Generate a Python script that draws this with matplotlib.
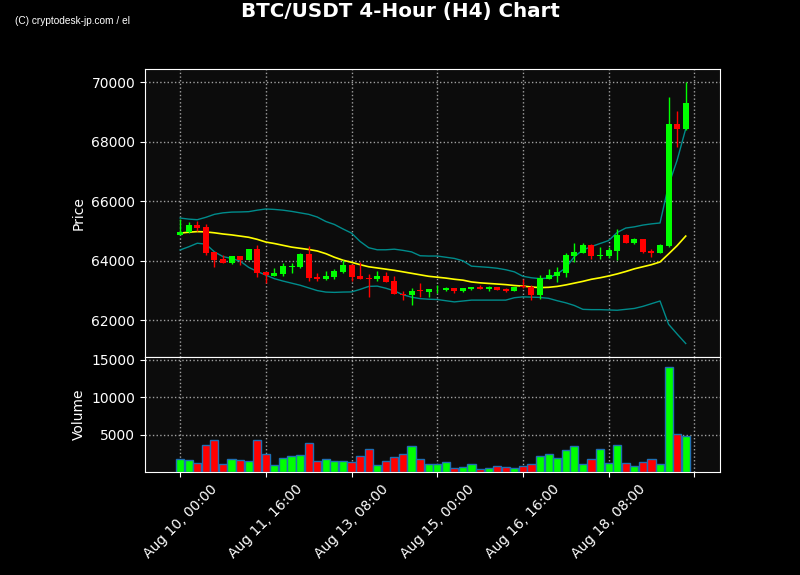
import matplotlib
matplotlib.use("Agg")
import matplotlib.pyplot as plt
import pandas as pd
import numpy as np

# ---- data ----
start = "2024-08-10 00:00"
opens = [64882, 64963, 65209, 65130, 64297, 64050, 63936, 64162, 64027, 64388,
         63632, 63497, 63564, 63795, 63790, 64230, 63463, 63385, 63443, 63620,
         63868, 63487, 63408, 63385, 63487, 63328, 62900, 62845, 63003, 62956,
         63037, 63013, 63081, 62990, 63047, 63115, 63037, 63115, 63058, 62980,
         63148, 63104, 62845, 63395, 63487, 63598, 64172, 64274, 64544, 64165,
         64172, 64331, 64872, 64601, 64736, 64341, 64274, 64490, 68588, 68420]
highs = [65400, 65300, 65320, 65235, 64300, 64196, 64160, 64170, 64400, 64534,
         63640, 63746, 63915, 63915, 64273, 64490, 63598, 63655, 63723, 64027,
         63900, 63970, 63554, 63655, 63632, 63487, 62990, 63071, 63240, 63060,
         63182, 63110, 63090, 63090, 63130, 63172, 63150, 63125, 63090, 63130,
         63375, 63182, 63509, 63713, 63780, 64253, 64591, 64590, 64560, 64456,
         64480, 65064, 64890, 64760, 64745, 64409, 64550, 69510, 69017, 70000]
lows = [64870, 64950, 64985, 64185, 63780, 63915, 63900, 63850, 64020, 63443,
        63240, 63490, 63497, 63598, 63746, 63317, 63307, 63340, 63400, 63590,
        63317, 63380, 62790, 63328, 63290, 62885, 62699, 62530, 62787, 62787,
        62935, 62990, 62935, 62940, 63030, 63040, 62990, 63010, 62950, 62970,
        63100, 62699, 62720, 63390, 63274, 63443, 63970, 64250, 64050, 64071,
        64090, 64027, 64590, 64560, 64250, 64139, 64250, 64450, 67834, 68400]
closes = [64973, 65209, 65118, 64275, 64027, 63936, 64152, 64027, 64388, 63598,
          63520, 63588, 63834, 63820, 64240, 63430, 63385, 63497, 63666, 63868,
          63463, 63385, 63385, 63487, 63294, 62889, 62845, 62990, 62970, 63047,
          63058, 63081, 62990, 63081, 63115, 63047, 63126, 63024, 62980, 63126,
          63104, 62845, 63419, 63509, 63622, 64196, 64297, 64544, 64172, 64185,
          64365, 64872, 64611, 64736, 64297, 64263, 64534, 68588, 68429, 69300]
volumes = [1800, 1667, 1267, 3667, 4333, 1133, 1800, 1667, 1533, 4333,
           2467, 1000, 1933, 2200, 2333, 3933, 1533, 1800, 1533, 1533,
           1400, 2200, 3133, 1000, 1533, 2067, 2467, 3533, 1800, 1133,
           1133, 1400, 600, 733, 1133, 467, 600, 867, 733, 600,
           867, 1133, 2200, 2467, 1933, 3000, 3533, 1133, 1800, 3133,
           1267, 3667, 1267, 867, 1400, 1800, 1133, 14067, 5133, 4867]
sma20 = [64930, 64960, 64980, 64970, 64940, 64900, 64870, 64830, 64790, 64720,
         64630, 64580, 64520, 64460, 64420, 64380, 64330, 64240, 64120, 64020,
         63950, 63870, 63800, 63760, 63720, 63680, 63630, 63580, 63530, 63480,
         63450, 63420, 63380, 63350, 63290, 63260, 63240, 63220, 63200, 63170,
         63150, 63120, 63100, 63110, 63140, 63190, 63250, 63310, 63380, 63430,
         63490, 63560, 63640, 63730, 63800, 63870, 63960, 64230, 64510, 64830]
bb_upper = [65436, 65400, 65380, 65460, 65560, 65610, 65635, 65640, 65650, 65700,
            65740, 65725, 65700, 65660, 65610, 65560, 65470, 65320, 65220, 65070,
            64930, 64650, 64440, 64370, 64370, 64390, 64350, 64300, 64170, 64160,
            64160, 64120, 64080, 64000, 63820, 63800, 63780, 63750, 63700, 63630,
            63480, 63430, 63400, 63420, 63560, 63760, 64140, 64360, 64480, 64580,
            64680, 64950, 65100, 65140, 65200, 65240, 65270, 66540, 67380, 68430]
bb_lower = [64365, 64470, 64590, 64560, 64300, 64140, 64080, 63990, 63780, 63640,
            63520, 63400, 63320, 63250, 63180, 63090, 63000, 62950, 62940, 62950,
            62955, 63040, 63140, 63150, 63080, 62990, 62860, 62780, 62730, 62710,
            62700, 62660, 62620, 62650, 62680, 62680, 62680, 62680, 62680, 62760,
            62790, 62780, 62770, 62740, 62660, 62590, 62500, 62370, 62360, 62360,
            62350, 62340, 62370, 62400, 62470, 62560, 62650, 61870, 61540, 61223]

title = "BTC/USDT 4-Hour (H4) Chart"
watermark = "(C) cryptodesk-jp.com / el"

# ---- figure ----
times = pd.date_range(start, periods=len(opens), freq="4h")
x = np.arange(len(opens))
up = np.array(closes) >= np.array(opens)
colors = np.where(up, "#00ff00", "#ff0000")

fig = plt.figure(figsize=(8, 5.75), dpi=100, facecolor="black")
ax1 = fig.add_axes([145/800, 1-357/575, 575/800, 288/575])
ax2 = fig.add_axes([145/800, 1-472/575, 575/800, 115/575], sharex=ax1)

for ax in (ax1, ax2):
    ax.set_facecolor("#0c0c0c")
    for s in ax.spines.values():
        s.set_color("white")
    ax.tick_params(colors="white", labelcolor="white", labelsize=10)
    ax.grid(True, linestyle=":", color="#a0a0a0", linewidth=1)
    ax.set_axisbelow(True)

ax1.plot(x, bb_upper, color="#008b8b", lw=1, zorder=2)
ax1.plot(x, bb_lower, color="#008b8b", lw=1, zorder=2)
ax1.plot(x, sma20, color="#ffff00", lw=1.2, zorder=2)

o = np.array(opens); c = np.array(closes)
ax1.vlines(x, lows, highs, colors=colors, lw=1, zorder=3)
ax1.bar(x, np.abs(c - o) + 1e-9, bottom=np.minimum(o, c), width=0.7,
        color=colors, zorder=4)

ax2.bar(x, volumes, width=0.95, color=colors, edgecolor="#1f6fb4", lw=1, zorder=3)

ax1.set_ylim(60770, 70440)
ax2.set_ylim(60, 15360)
ax1.set_xlim(-4.1, 63.0)
ax1.set_yticks([62000, 64000, 66000, 68000, 70000])
ax2.set_yticks([5000, 10000, 15000])
ax1.set_ylabel("Price", color="white")
ax2.set_ylabel("Volume", color="white")
ax1.tick_params(labelbottom=False)

tick_pos = list(range(0, 61, 10))
labels = [times[i].strftime("%b %d, %H:%M") if i < len(times) else "" for i in tick_pos]
ax2.set_xticks(tick_pos)
ax2.set_xticklabels(labels, rotation=45)

fig.suptitle(title, color="white", fontsize=14.3, fontweight="bold", y=0.997)
fig.text(15/800, 1-21/575, watermark, color="white", fontsize=7.3,
         family="Liberation Sans", va="center")

fig.savefig("out.png", dpi=100, facecolor="black")
